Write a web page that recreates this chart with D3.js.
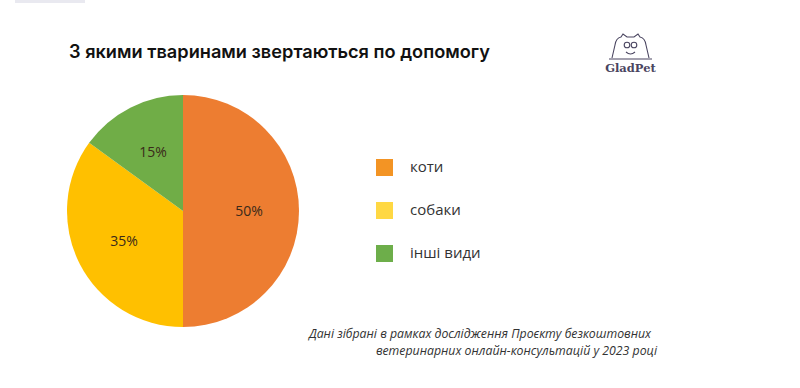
<!DOCTYPE html>
<html><head><meta charset="utf-8">
<script src="https://cdn.jsdelivr.net/npm/d3@7"></script>
<style>body{margin:0;background:#fff}svg{display:block}</style>
</head><body>
<svg id="c" width="800" height="388"></svg>
<script>
const categories = ["коти", "собаки", "інші види"];
const values = [50, 35, 15];
const sliceColors = ["#ED7D31", "#FFC000", "#70AD47"];
const legendColors = ["#F39424", "#FFD843", "#6DAE4A"];
const title = "З якими тваринами звертаються по допомогу";
const note = ["Дані зібрані в рамках дослідження Проєкту безкоштовних", "ветеринарних онлайн-консультацій у 2023 році"];

const svg = d3.select("#c");
svg.append("rect").attr("x",15).attr("y",0).attr("width",70).attr("height",3).attr("fill","#e9e9f0");

svg.append("text").attr("x",69).attr("y",58).text(title)
  .attr("font-family","Inter, 'Open Sans', sans-serif").attr("font-weight",600)
  .attr("font-size",18.2).attr("fill","#111");

// logo
const logo = svg.append("g").attr("stroke","#4a4560").attr("fill","none").attr("stroke-width",1.1);
logo.append("path").attr("d","M612,58 L615,45 Q616,38 621,37 L623,34 L627,37 L634,37 L638,34 L640,37 Q645,38 646,45 L649,58");
logo.append("line").attr("x1",609).attr("y1",59).attr("x2",652).attr("y2",59);
logo.append("circle").attr("cx",627).attr("cy",45).attr("r",2.8);
logo.append("circle").attr("cx",634).attr("cy",45).attr("r",2.8);
logo.append("path").attr("d","M626,52 Q630.5,56 635,52");
svg.append("text").attr("x",630.5).attr("y",72).attr("text-anchor","middle").text("GladPet")
  .attr("font-family","'DejaVu Serif', 'Liberation Serif', serif").attr("font-weight","bold")
  .attr("font-size",11.5).attr("fill","#4a4560");

const cx = 183, cy = 211, r = 116;
const pie = d3.pie().sort(null).value(d => d)(values);
const arc = d3.arc().innerRadius(0).outerRadius(r);
const labelArc = d3.arc().innerRadius(r*0.57).outerRadius(r*0.57);
const g = svg.append("g").attr("transform",`translate(${cx},${cy})`);
g.selectAll("path").data(pie).join("path").attr("d",arc).attr("fill",(d,i)=>sliceColors[i]);
g.selectAll("text").data(pie).join("text")
  .attr("transform",d=>`translate(${labelArc.centroid(d)})`)
  .attr("text-anchor","middle").attr("dy","0.35em")
  .attr("font-family","'Open Sans', sans-serif").attr("font-size",14).attr("fill","#3a2a1a")
  .text(d=>d.value+"%");

const lg = svg.append("g").selectAll("g").data(categories).join("g")
  .attr("transform",(d,i)=>`translate(376,${159 + i*43})`);
lg.append("rect").attr("width",17).attr("height",17).attr("fill",(d,i)=>legendColors[i]);
lg.append("text").attr("x",34).attr("y",13).text(d=>d)
  .attr("font-family","'Open Sans', sans-serif").attr("font-size",15).attr("fill","#333");

svg.append("g").selectAll("text").data(note).join("text")
  .attr("x",(d,i)=> i==0 ? 651 : 657).attr("y",(d,i)=>338+i*17).attr("text-anchor","end")
  .attr("font-family","'Open Sans', sans-serif").attr("font-style","italic").attr("font-size",12.3).attr("fill","#333")
  .text(d=>d);
</script>
</body></html>
